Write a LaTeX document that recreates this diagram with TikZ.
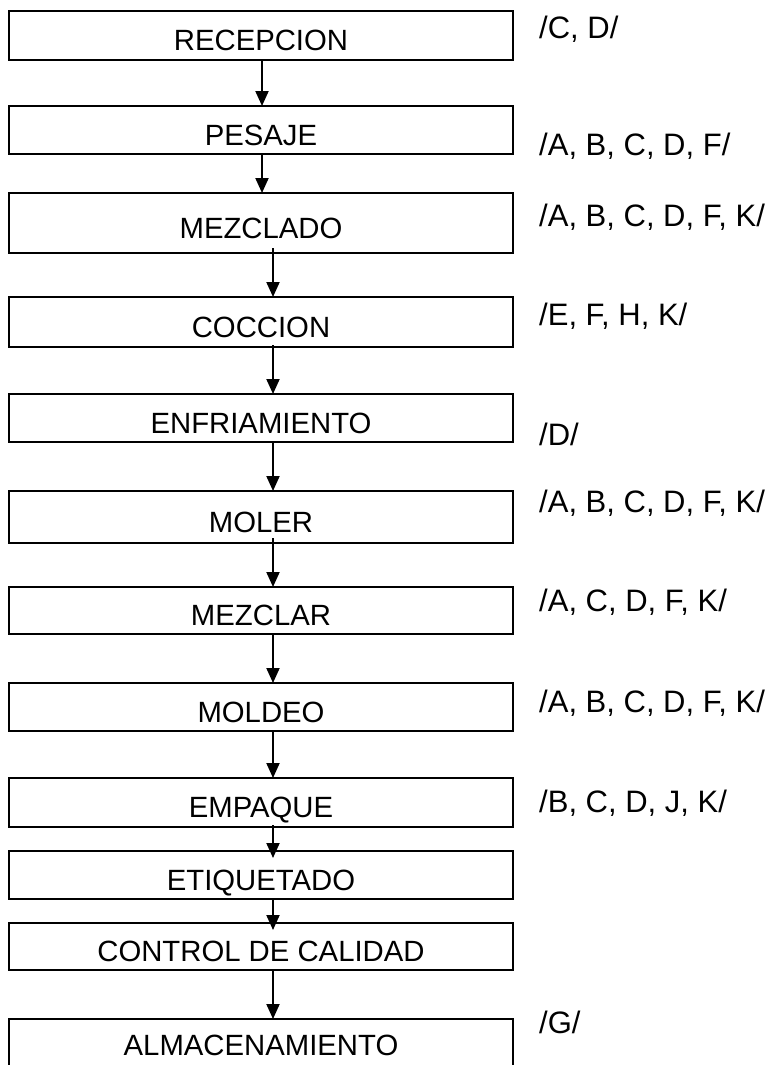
\documentclass[tikz,border=0pt]{standalone}
\usepackage{fontspec}
\setmainfont{Liberation Sans}
\usetikzlibrary{arrows.meta}
\begin{document}
\begin{tikzpicture}[x=1pt,y=-1pt,
  stage/.style={draw=black, line width=1.8pt, rectangle, minimum width=504pt,
    inner sep=0pt, outer sep=0pt, font=\fontsize{29.3}{30}\selectfont,
    text height=30pt, text depth=0pt},
  hazard/.style={anchor=base west, inner sep=0pt, font=\fontsize{31}{32}\selectfont},
  flow/.style={line width=2pt, -{Triangle[length=15pt,width=13pt]}}]
\useasboundingbox (0,0) rectangle (781,1065);
\clip (0,0) rectangle (781,1065);

% process stages
\node[stage, minimum height=49pt] (rec)  at (261,35.5)  {RECEPCION};
\node[stage, minimum height=48pt] (pes)  at (261,130)   {PESAJE};
\node[stage, minimum height=60pt] (mez)  at (261,223)   {MEZCLADO};
\node[stage, minimum height=50pt] (coc)  at (261,322)   {COCCION};
\node[stage, minimum height=48pt] (enf)  at (261,418)   {ENFRIAMIENTO};
\node[stage, minimum height=52pt] (mol)  at (261,517)   {MOLER};
\node[stage, minimum height=47pt] (mzr)  at (261,610.5) {MEZCLAR};
\node[stage, minimum height=48pt] (mld)  at (261,707)   {MOLDEO};
\node[stage, minimum height=49pt] (emp)  at (261,802.5) {EMPAQUE};
\node[stage, minimum height=48pt] (eti)  at (261,875)   {ETIQUETADO};
\node[stage, minimum height=47pt] (cal)  at (261,946.5) {CONTROL DE CALIDAD};
\node[stage, minimum height=70pt, text height=21pt, text depth=18pt] (alm) at (261,1054) {ALMACENAMIENTO};

% hazard codes beside the stages
\node[hazard] (hrec) at (539,38)   {/C, D/};
\node[hazard] (hpes) at (539,155)  {/A, B, C, D, F/};
\node[hazard] (hmez) at (539,226)  {/A, B, C, D, F, K/};
\node[hazard] (hcoc) at (539,325)  {/E, F, H, K/};
\node[hazard] (henf) at (539,445)  {/D/};
\node[hazard] (hmol) at (539,512)  {/A, B, C, D, F, K/};
\node[hazard] (hmzr) at (539,611)  {/A, C, D, F, K/};
\node[hazard] (hmld) at (539,712)  {/A, B, C, D, F, K/};
\node[hazard] (hemp) at (539,812)  {/B, C, D, J, K/};
\node[hazard] (halm) at (539,1033) {/G/};

% flow arrows
\draw[flow] ([xshift=1pt]rec.south) -- ([xshift=1pt]pes.north);
\draw[flow] ([xshift=1pt]pes.south) -- ([xshift=1pt]mez.north);
\draw[flow] ([xshift=12pt,yshift=5pt]mez.south) -- ([xshift=12pt]coc.north);
\draw[flow] ([xshift=12pt,yshift=2pt]coc.south) -- ([xshift=12pt]enf.north);
\draw[flow] ([xshift=12pt]enf.south) -- ([xshift=12pt]mol.north);
\draw[flow] ([xshift=12pt,yshift=5pt]mol.south) -- ([xshift=12pt]mzr.north);
\draw[flow] ([xshift=12pt]mzr.south) -- ([xshift=12pt]mld.north);
\draw[flow] ([xshift=12pt]mld.south) -- ([xshift=12pt]emp.north);
\draw[flow] ([xshift=12pt,yshift=2pt]emp.south) -- ([xshift=12pt,yshift=-7pt]eti.north);
\draw[flow] ([xshift=12pt]eti.south) -- ([xshift=12pt,yshift=-7pt]cal.north);
\draw[flow] ([xshift=12pt]cal.south) -- ([xshift=12pt]alm.north);
\end{tikzpicture}
\end{document}
